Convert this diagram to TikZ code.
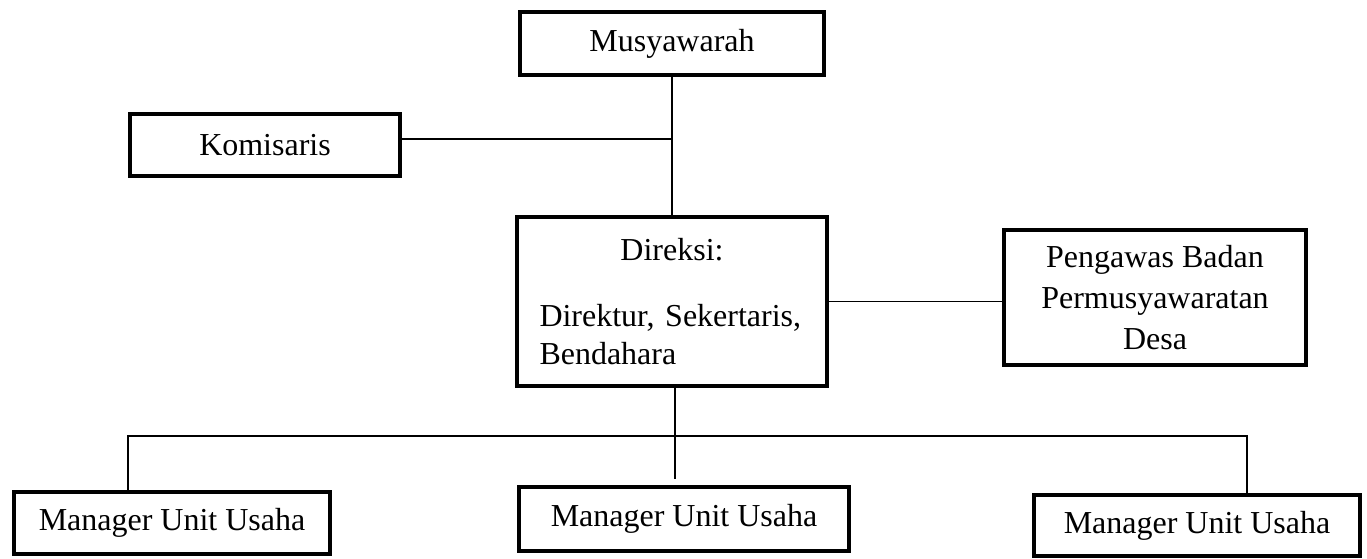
\documentclass[tikz,border=0pt]{standalone}
\usepackage{fontspec}
\setmainfont{Liberation Serif}
\usepackage{tikz}
\usetikzlibrary{positioning}

\begin{document}
\begin{tikzpicture}[font=\fontsize{18.2}{21.6}\selectfont,
 unit/.style={draw=black,line width=2.6pt,fill=white,align=center,inner sep=0pt},
 link/.style={line width=0.9pt}]
\useasboundingbox (0,0) rectangle (27.34,-11.16);
\node[unit,minimum width=6.08cm,minimum height=1.26cm] (mus) at (13.44,-0.87) {Musyawarah};
\node[unit,minimum width=5.4cm,minimum height=1.24cm] (kom) at (5.30,-2.90) {Komisaris};
\node[unit,minimum width=6.2cm,minimum height=3.38cm,text width=5.3cm,align=left] (dir) at (13.44,-6.03)
 {{\centering Direksi:\par}\vspace{16pt}Direktur, Sekertaris,\\Bendahara};
\node[unit,minimum width=6.04cm,minimum height=2.7cm,font=\fontsize{18.2}{23.3}\selectfont] (peng) at (23.10,-5.95)
 {Pengawas Badan\\Permusyawaratan\\Desa};
\node[unit,minimum width=6.32cm,minimum height=1.24cm] (mgra) at (3.44,-10.46) {Manager Unit Usaha};
\node[unit,minimum width=6.6cm,minimum height=1.28cm] (mgrb) at (13.68,-10.38) {Manager Unit Usaha};
\node[unit,minimum width=6.52cm,minimum height=1.22cm] (mgrc) at (23.94,-10.51) {Manager Unit Usaha};
\coordinate (busl) at (2.56,-8.72);
\coordinate (busr) at (24.94,-8.72);
\draw[link] (mus) -- (dir);
\draw[link] ([yshift=0.12cm]kom.east) -- ([yshift=0.12cm]kom.east -| mus.south);
\draw[link] (dir.east) -- (dir.east -| peng.west);
\draw[link] ([xshift=0.06cm]dir.south) -- ([xshift=0.06cm,yshift=0.12cm]dir.south |- mgrb.north);
\draw[link] (busl |- mgra.north) -- (busl) -- (busr) -- (busr |- mgrc.north);
\end{tikzpicture}
\end{document}
